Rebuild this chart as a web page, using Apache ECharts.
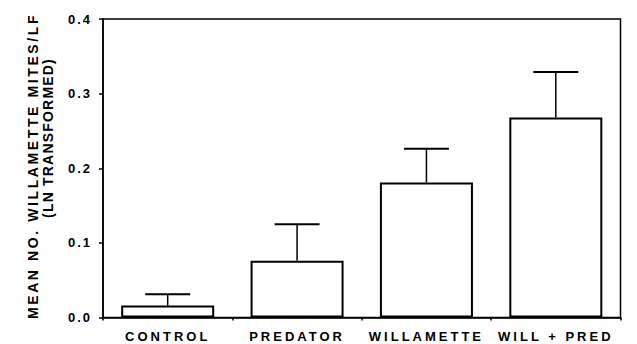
<!DOCTYPE html>
<html>
<head>
<meta charset="utf-8">
<script src="https://cdn.jsdelivr.net/npm/echarts@6/dist/echarts.min.js"></script>
<style>
html,body{margin:0;padding:0;background:#fff;}
#chart{width:637px;height:344px;}
</style>
</head>
<body>
<div id="chart"></div>
<script>
const categories = ['CONTROL', 'PREDATOR', 'WILLAMETTE', 'WILL + PRED'];
const means = [0.016, 0.076, 0.181, 0.268];
const upperErr = [0.031, 0.125, 0.226, 0.329];
const yTickValues = [0, 0.1, 0.2, 0.3, 0.4];
const yTitleLine1 = 'MEAN NO. WILLAMETTE MITES/LF';
const yTitleLine2 = '(LN TRANSFORMED)';

const FONT = 'Liberation Sans, Arial, Helvetica, sans-serif';
const chart = echarts.init(document.getElementById('chart'), null, {renderer: 'svg'});

const option = {
  animation: false,
  backgroundColor: '#fff',
  grid: {left: 103, right: 16.5, top: 19, bottom: 26.5, show: true, borderColor: '#000', borderWidth: 1.5},
  xAxis: {
    type: 'category',
    data: categories,
    axisLine: {lineStyle: {color: '#000', width: 1.5}},
    axisTick: {show: true, length: 3, alignWithLabel: false, lineStyle: {color: '#000', width: 1.5}},
    axisLabel: {color: '#000', fontWeight: 'bold', fontSize: 13, fontFamily: FONT, margin: 12},
    splitLine: {show: false}
  },
  yAxis: {
    type: 'value',
    min: yTickValues[0],
    max: yTickValues[yTickValues.length - 1],
    interval: 0.1,
    axisLine: {show: true, lineStyle: {color: '#000', width: 1.5}},
    axisTick: {show: true, length: 4, lineStyle: {color: '#000', width: 1.5}},
    axisLabel: {color: '#000', fontWeight: 'bold', fontSize: 13, fontFamily: FONT, margin: 11,
      formatter: v => v.toFixed(1)},
    splitLine: {show: false}
  },
  graphic: [
    {type: 'text', x: 33, y: 166, rotation: Math.PI / 2,
     style: {text: yTitleLine1, font: 'bold 14px ' + FONT, fill: '#000', textAlign: 'center', textVerticalAlign: 'middle'}},
    {type: 'text', x: 48, y: 138, rotation: Math.PI / 2,
     style: {text: yTitleLine2, font: 'bold 14px ' + FONT, fill: '#000', textAlign: 'center', textVerticalAlign: 'middle'}}
  ],
  series: [
    {
      type: 'bar',
      data: means,
      barWidth: 93,
      itemStyle: {color: '#fff', borderColor: '#000', borderWidth: 2},
      z: 3
    },
    {
      type: 'custom',
      data: categories.map((c, i) => [i, means[i], upperErr[i]]),
      z: 2,
      renderItem: function (params, api) {
        const p0 = api.coord([api.value(0), api.value(1)]);
        const p1 = api.coord([api.value(0), api.value(2)]);
        const half = 22.5;
        return {
          type: 'group',
          children: [
            {type: 'line', shape: {x1: p0[0], y1: p0[1], x2: p1[0], y2: p1[1]}, style: {stroke: '#000', lineWidth: 1.5}},
            {type: 'line', shape: {x1: p1[0] - half, y1: p1[1], x2: p1[0] + half, y2: p1[1]}, style: {stroke: '#000', lineWidth: 2}}
          ]
        };
      }
    }
  ]
};
chart.setOption(option);

function applySpacing() {
  const texts = document.querySelectorAll('#chart svg text');
  texts.forEach(t => {
    const s = t.textContent;
    let sp = 0;
    if (categories.indexOf(s) >= 0) sp = 3;
    else if (s === yTitleLine1) sp = 2.6;
    else if (s === yTitleLine2) sp = 1.2;
    else sp = 2;
    t.style.letterSpacing = sp + 'px';
  });
}
chart.on('finished', applySpacing);
setTimeout(applySpacing, 50);
</script>
</body>
</html>
